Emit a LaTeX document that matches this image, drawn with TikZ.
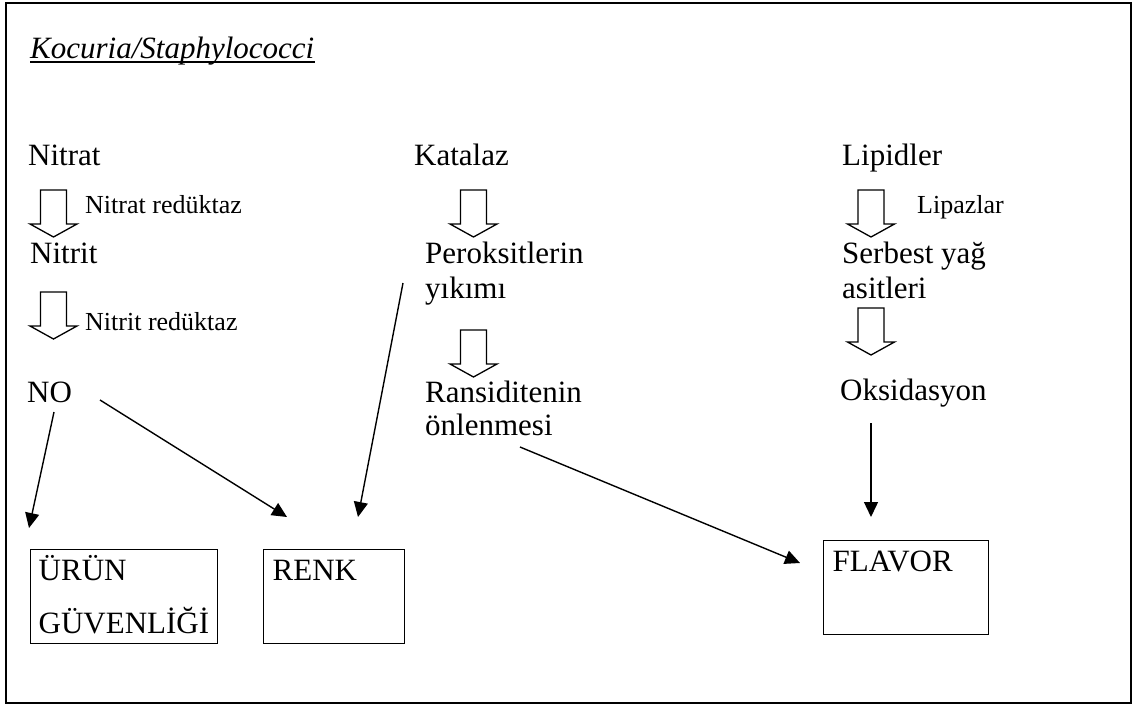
\documentclass[tikz,border=0pt]{standalone}
\usepackage{fontspec}
\setmainfont{Liberation Serif}
\usetikzlibrary{arrows.meta,calc}

\tikzset{
  txt/.style={anchor=base west, inner sep=0pt, align=left, font=\fontsize{31}{35}\selectfont},
  small/.style={anchor=base west, inner sep=0pt, font=\fontsize{26}{30}\selectfont},
  outbox/.style={draw, line width=1.4pt, anchor=north west, inner xsep=9pt, inner ysep=0pt,
    align=left, text height=31pt, text depth=63pt,
    font=\fontsize{31}{53}\selectfont},
  link/.style={line width=1.4pt, -{Triangle[length=15pt,width=14pt]}},
  pics/hollowdown/.style={code={
    \draw[line width=1.3pt] (-13,0) -- (13,0) -- (13,34) -- (23.5,34) -- (0,47)
      -- (-23.5,34) -- (-13,34) -- cycle;}}
}

\begin{document}
\begin{tikzpicture}[x=1pt,y=-1pt]
  \useasboundingbox (0,0) rectangle (1135,705);
  \draw[line width=1.5pt] (6,3) rectangle (1131,703);

  % title
  \node[txt, font=\fontsize{31}{35}\selectfont\itshape] (title) at (30,58) {Kocuria/Staphylococci};
  \draw[line width=1.5pt] ($(title.base west)+(0,4)$) -- ($(title.base east)+(0,4)$);

  % left column
  \node[txt] (nitrat) at (28,165) {Nitrat};
  \pic at (53.5,190) {hollowdown};
  \node[small] (nitratred) at (85,213) {Nitrat redüktaz};
  \node[txt] (nitrit) at (30,263) {Nitrit};
  \pic at (53.5,292) {hollowdown};
  \node[small] (nitritred) at (85,330) {Nitrit redüktaz};
  \node[txt] (no) at (27,402) {NO};

  % middle column (multi-line nodes sit on their last line)
  \node[txt] (katalaz) at (414,165) {Katalaz};
  \pic at (473.5,190) {hollowdown};
  \node[txt] (perok) at (425,298) {Peroksitlerin\\yıkımı};
  \pic at (473.5,330) {hollowdown};
  \node[txt, font=\fontsize{31}{33}\selectfont] (ransid) at (425,435) {Ransiditenin\\önlenmesi};

  % right column
  \node[txt] (lipid) at (842,165) {Lipidler};
  \pic at (871,190) {hollowdown};
  \node[small] (lipaz) at (917,213) {Lipazlar};
  \node[txt] (serbest) at (842,298) {Serbest yağ\\asitleri};
  \pic at (871,308) {hollowdown};
  \node[txt] (oksid) at (840,400) {Oksidasyon};

  % results
  \node[outbox, inner xsep=8pt, text width=171pt] (urun) at (30,549) {ÜRÜN\\GÜVENLİĞİ};
  \node[outbox, text width=123pt] (renk) at (263,549) {RENK};
  \node[outbox, text width=147pt] (flavor) at (823,540) {FLAVOR};

  \coordinate (noL) at (54,412);     \coordinate (urunT) at (29,528);
  \coordinate (noR) at (100,400);    \coordinate (renkL) at (287,517);
  \coordinate (perokS) at (403,283); \coordinate (renkR) at (358,517);
  \coordinate (ransS) at (520,447);  \coordinate (flavL) at (800,563);
  \coordinate (oksS) at (871,423);   \coordinate (flavT) at (871,517);

  \draw[link] (noL) -- (urunT);
  \draw[link] (noR) -- (renkL);
  \draw[link] (perokS) -- (renkR);
  \draw[link] (ransS) -- (flavL);
  \draw[link] (oksS) -- (flavT);
\end{tikzpicture}
\end{document}
